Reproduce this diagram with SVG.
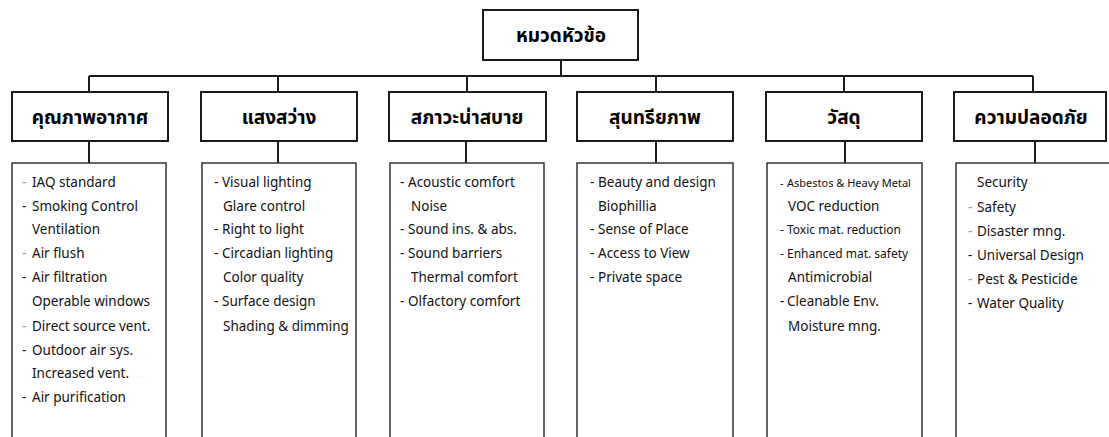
<svg xmlns="http://www.w3.org/2000/svg" width="1109" height="437" viewBox="0 0 1109 437">
<style>
.bx{fill:#fff;stroke:#1a1a1a;stroke-width:2}
.cb{fill:#fff;stroke:#333;stroke-width:1.5}
.ln{stroke:#1a1a1a;stroke-width:2;fill:none}
.th{font-family:"Noto Sans Thai","Noto Sans",sans-serif;font-weight:bold;font-size:19px;fill:#000;text-anchor:middle}
.it{font-family:"Noto Sans","DejaVu Sans",sans-serif;font-size:13.5px;fill:#111}
.sm{font-size:11px}
.sm2{font-size:12px}
.fd{fill:#999}
</style>
<rect width="1109" height="437" fill="#fff"/>
<g id="connectors">
<line class="ln" x1="561" y1="60" x2="561" y2="76"/>
<line class="ln" x1="89" y1="76" x2="1033" y2="76"/>
<line class="ln" x1="89" y1="76" x2="89" y2="92"/>
<line class="ln" x1="278" y1="76" x2="278" y2="92"/>
<line class="ln" x1="467" y1="76" x2="467" y2="92"/>
<line class="ln" x1="656" y1="76" x2="656" y2="92"/>
<line class="ln" x1="844" y1="76" x2="844" y2="92"/>
<line class="ln" x1="1033" y1="76" x2="1033" y2="92"/>
<line class="ln" x1="89" y1="141" x2="89" y2="163" stroke-width="1.5"/>
<line class="ln" x1="278" y1="141" x2="278" y2="163" stroke-width="1.5"/>
<line class="ln" x1="466" y1="141" x2="466" y2="163" stroke-width="1.5"/>
<line class="ln" x1="656" y1="141" x2="656" y2="163" stroke-width="1.5"/>
<line class="ln" x1="845" y1="141" x2="845" y2="163" stroke-width="1.5"/>
<line class="ln" x1="1035" y1="141" x2="1035" y2="163" stroke-width="1.5"/>
</g>
<g id="root">
<rect class="bx" x="483" y="10" width="155" height="50"/>
<text class="th" x="561" y="42">หมวดหัวข้อ</text>
</g>
<g id="h1"><rect class="bx" x="12" y="92" width="156" height="49"/><text class="th" x="90" y="124">คุณภาพอากาศ</text></g>
<g id="h2"><rect class="bx" x="201" y="92" width="156" height="49"/><text class="th" x="279" y="124">แสงสว่าง</text></g>
<g id="h3"><rect class="bx" x="389" y="92" width="157" height="49"/><text class="th" x="467" y="124">สภาวะน่าสบาย</text></g>
<g id="h4"><rect class="bx" x="577" y="92" width="156" height="49"/><text class="th" x="655" y="124">สุนทรียภาพ</text></g>
<g id="h5"><rect class="bx" x="766" y="92" width="156" height="49"/><text class="th" x="844" y="124">วัสดุ</text></g>
<g id="h6"><rect class="bx" x="954" y="92" width="152" height="49"/><text class="th" x="1031" y="124">ความปลอดภัย</text></g>

<g id="c1">
<rect class="cb" x="12" y="163" width="154" height="290"/>
<text class="it" y="187"><tspan x="22" class="fd">-</tspan><tspan x="32">IAQ standard</tspan></text>
<text class="it" y="211"><tspan x="22">-</tspan><tspan x="32">Smoking Control</tspan></text>
<text class="it" y="234"><tspan x="32">Ventilation</tspan></text>
<text class="it" y="258"><tspan x="22" class="fd">-</tspan><tspan x="32">Air flush</tspan></text>
<text class="it" y="282"><tspan x="22">-</tspan><tspan x="32">Air filtration</tspan></text>
<text class="it" y="306"><tspan x="32">Operable windows</tspan></text>
<text class="it" y="331"><tspan x="22" class="fd">-</tspan><tspan x="32">Direct source vent.</tspan></text>
<text class="it" y="355"><tspan x="22">-</tspan><tspan x="32">Outdoor air sys.</tspan></text>
<text class="it" y="378"><tspan x="32">Increased vent.</tspan></text>
<text class="it" y="402"><tspan x="22">-</tspan><tspan x="32">Air purification</tspan></text>
</g>
<g id="c2">
<rect class="cb" x="202" y="163" width="154" height="290"/>
<text class="it" y="187"><tspan x="214">-</tspan><tspan x="222">Visual lighting</tspan></text>
<text class="it" y="211"><tspan x="223">Glare control</tspan></text>
<text class="it" y="234"><tspan x="214">-</tspan><tspan x="222">Right to light</tspan></text>
<text class="it" y="258"><tspan x="214">-</tspan><tspan x="222">Circadian lighting</tspan></text>
<text class="it" y="282"><tspan x="223">Color quality</tspan></text>
<text class="it" y="306"><tspan x="214">-</tspan><tspan x="222">Surface design</tspan></text>
<text class="it" y="331"><tspan x="223">Shading &amp; dimming</tspan></text>
</g>
<g id="c3">
<rect class="cb" x="390" y="163" width="154" height="290"/>
<text class="it" y="187"><tspan x="400">-</tspan><tspan x="408">Acoustic comfort</tspan></text>
<text class="it" y="211"><tspan x="411">Noise</tspan></text>
<text class="it" y="234"><tspan x="400">-</tspan><tspan x="408">Sound ins. &amp; abs.</tspan></text>
<text class="it" y="258"><tspan x="400">-</tspan><tspan x="408">Sound barriers</tspan></text>
<text class="it" y="282"><tspan x="411">Thermal comfort</tspan></text>
<text class="it" y="306"><tspan x="400">-</tspan><tspan x="408">Olfactory comfort</tspan></text>
</g>
<g id="c4">
<rect class="cb" x="577" y="163" width="156" height="290"/>
<text class="it" y="187"><tspan x="590">-</tspan><tspan x="598">Beauty and design</tspan></text>
<text class="it" y="211"><tspan x="598">Biophillia</tspan></text>
<text class="it" y="234"><tspan x="590">-</tspan><tspan x="598">Sense of Place</tspan></text>
<text class="it" y="258"><tspan x="590">-</tspan><tspan x="598">Access to View</tspan></text>
<text class="it" y="282"><tspan x="590">-</tspan><tspan x="598">Private space</tspan></text>
</g>
<g id="c5">
<rect class="cb" x="767" y="163" width="155" height="290"/>
<text class="it sm" y="187"><tspan x="780">-</tspan><tspan x="787">Asbestos &amp; Heavy Metal</tspan></text>
<text class="it" y="211"><tspan x="788">VOC reduction</tspan></text>
<text class="it sm2" y="234"><tspan x="780">-</tspan><tspan x="787">Toxic mat. reduction</tspan></text>
<text class="it sm2" y="258"><tspan x="780">-</tspan><tspan x="787">Enhanced mat. safety</tspan></text>
<text class="it" y="282"><tspan x="788">Antimicrobial</tspan></text>
<text class="it" y="306"><tspan x="780">-</tspan><tspan x="787">Cleanable Env.</tspan></text>
<text class="it" y="331"><tspan x="788">Moisture mng.</tspan></text>
</g>
<g id="c6">
<rect class="cb" x="956" y="163" width="160" height="290"/>
<text class="it" y="187"><tspan x="977">Security</tspan></text>
<text class="it" y="212"><tspan x="968" class="fd">-</tspan><tspan x="977">Safety</tspan></text>
<text class="it" y="236"><tspan x="968" class="fd">-</tspan><tspan x="977">Disaster mng.</tspan></text>
<text class="it" y="260"><tspan x="968">-</tspan><tspan x="977">Universal Design</tspan></text>
<text class="it" y="284"><tspan x="968" class="fd">-</tspan><tspan x="977">Pest &amp; Pesticide</tspan></text>
<text class="it" y="308"><tspan x="968">-</tspan><tspan x="977">Water Quality</tspan></text>
</g>
</svg>
